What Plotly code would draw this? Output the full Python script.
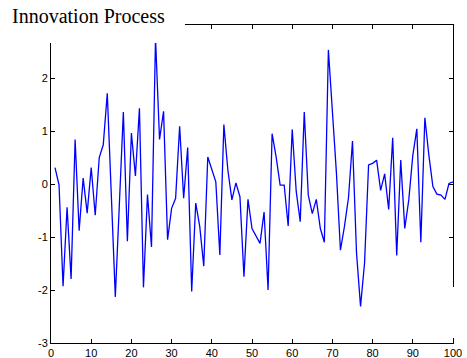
import plotly.graph_objects as go

# ---- data ----
x_index = list(range(1, 101))
innovation = [
    0.31, -0.02, -1.93, -0.44, -1.79, 0.84, -0.88, 0.11, -0.55, 0.31,
    -0.59, 0.50, 0.74, 1.71, -0.20, -2.13, -0.39, 1.36, -1.08, 0.96,
    0.15, 1.43, -1.95, -0.20, -1.19, 2.75, 0.84, 1.37, -1.05, -0.46,
    -0.27, 1.09, -0.27, 0.69, -2.03, -0.36, -0.80, -1.55, 0.51, 0.29,
    0.04, -1.34, 1.12, 0.26, -0.30, 0.02, -0.24, -1.75, -0.29, -0.84,
    -0.97, -1.12, -0.53, -2.00, 0.95, 0.51, -0.02, -0.02, -0.79, 1.03,
    -0.14, -0.71, 1.36, -0.21, -0.56, -0.29, -0.84, -1.10, 2.53, 1.45,
    0.21, -1.25, -0.80, -0.26, 0.81, -1.30, -2.31, -1.49, 0.36, 0.39,
    0.45, -0.12, 0.19, -0.48, 0.87, -1.35, 0.45, -0.84, -0.30, 0.54,
    1.04, -1.10, 1.25, 0.54, -0.05, -0.19, -0.21, -0.29, 0.01, 0.04,
]
x_tick_vals = [0, 10, 20, 30, 40, 50, 60, 70, 80, 90, 100]
x_tick_text = ["0", "10", "20", "30", "40", "50", "60", "70", "80", "90", "100"]
y_tick_vals = [-3, -2, -1, 0, 1, 2, 3]
# the label at 3 is hidden behind the title box in the reference
y_tick_text = ["-3", "-2", "-1", "0", "1", "2", ""]
title_text = "Innovation Process"

W, H = 467, 358
L, R, T, B = 51, 14, 25, 15
PW, PH = W - L - R, H - T - B


def px_to_paper_x(px):
    return (px - L) / PW


def py_to_paper_y(py):
    return (H - B - py) / PH


tick_font = dict(family="Liberation Sans, Arial, Helvetica, sans-serif", size=11, color="black")

fig = go.Figure(
    go.Scatter(
        x=x_index,
        y=innovation,
        mode="lines",
        line=dict(color="#0000ff", width=1.3),
        hoverinfo="skip",
    )
)

axis_common = dict(
    ticks="inside",
    ticklen=4,
    tickwidth=1,
    tickcolor="black",
    showline=True,
    linecolor="black",
    linewidth=1,
    mirror="ticks",
    showgrid=False,
    zeroline=False,
    tickfont=tick_font,
    automargin=False,
    fixedrange=True,
)

fig.update_layout(
    template="none",
    width=W,
    height=H,
    margin=dict(l=L, r=R, t=T, b=B, pad=0, autoexpand=False),
    paper_bgcolor="white",
    plot_bgcolor="white",
    showlegend=False,
    title=dict(
        text=title_text,
        x=12 / W,
        xref="container",
        xanchor="left",
        y=1 - 9.3 / H,
        yref="container",
        yanchor="top",
        pad=dict(t=0, b=0, l=0, r=0),
        font=dict(family="Liberation Serif, Times New Roman, serif", size=20, color="black"),
    ),
    xaxis=dict(range=[0, 100], tickmode="array", tickvals=x_tick_vals, ticktext=x_tick_text, **axis_common),
    yaxis=dict(range=[-3, 3], tickmode="array", tickvals=y_tick_vals, ticktext=y_tick_text, **axis_common),
    shapes=[
        # white box behind the title that hides the top-left of the frame
        dict(type="rect", xref="paper", yref="paper",
             x0=px_to_paper_x(0), x1=px_to_paper_x(185),
             y0=py_to_paper_y(43), y1=py_to_paper_y(0),
             fillcolor="white", line=dict(width=0), layer="above"),
        # gap in the right-hand frame line near the bottom
        dict(type="rect", xref="paper", yref="paper",
             x0=px_to_paper_x(448), x1=px_to_paper_x(458),
             y0=py_to_paper_y(338), y1=py_to_paper_y(287),
             fillcolor="white", line=dict(width=0), layer="above"),
    ],
)

fig.write_html("out.html", config={"displayModeBar": False})
